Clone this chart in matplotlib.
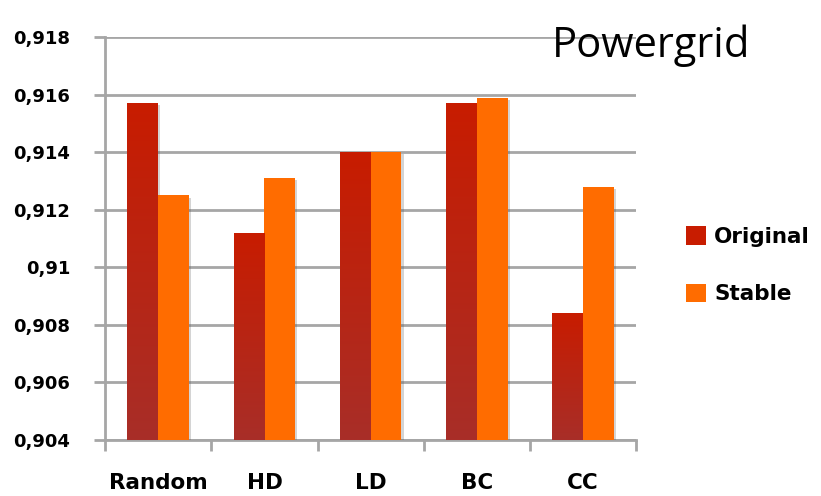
import numpy as np
import matplotlib
matplotlib.use("Agg")
import matplotlib.pyplot as plt
import matplotlib.patheffects as pe
from matplotlib.colors import LinearSegmentedColormap
from matplotlib.patches import Patch
from matplotlib.ticker import FixedLocator

categories = ["Random", "HD", "LD", "BC", "CC"]
original = [0.9157, 0.9112, 0.9140, 0.9157, 0.9084]
stable = [0.9125, 0.9131, 0.9140, 0.9159, 0.9128]
y_ticks = [0.904, 0.906, 0.908, 0.910, 0.912, 0.914, 0.916, 0.918]
y_labels = ["0,904", "0,906", "0,908", "0,91", "0,912", "0,914", "0,916", "0,918"]

ORIG_TOP = "#C81C00"
ORIG_BOTTOM = "#A82E28"
STABLE_COLOR = "#FF6C00"
GRID_COLOR = "#A6A6A6"
BOLD_FONT = "DejaVu Sans"
TITLE_FONT = "Open Sans"

fig = plt.figure(figsize=(8.21, 4.96), dpi=100)
ax = fig.add_axes([0.128, 0.113, 0.647, 0.812])

ymin, ymax = 0.904, 0.918
x = np.arange(len(categories))
width = 0.29

shadow = [pe.SimplePatchShadow(offset=(1.5, -1.5), alpha=0.25, shadow_rgbFace="#555555"), pe.Normal()]
grad = LinearSegmentedColormap.from_list("orig", [ORIG_BOTTOM, ORIG_TOP])

orig_bars = ax.bar(x - width / 2, np.array(original) - ymin, width, bottom=ymin,
                   color=ORIG_TOP, zorder=3, path_effects=shadow)
ax.bar(x + width / 2, np.array(stable) - ymin, width, bottom=ymin,
       color=STABLE_COLOR, zorder=3, path_effects=shadow)

# vertical gradient fill for the "Original" bars
g = np.linspace(0, 1, 256).reshape(-1, 1)
for bar in orig_bars:
    x0, y0 = bar.get_x(), bar.get_y()
    x1, y1 = x0 + bar.get_width(), y0 + bar.get_height()
    im = ax.imshow(g, cmap=grad, origin="lower", aspect="auto",
                   extent=[x0, x1, y0, y1], zorder=3.5, interpolation="bilinear")
    im.set_clip_path(bar)

ax.set_xlim(-0.5, len(categories) - 0.5)
ax.set_ylim(ymin, ymax)

ax.set_yticks(y_ticks)
ax.set_yticklabels(y_labels, fontsize=13, fontweight="bold", family=BOLD_FONT)
ax.set_xticks(x)
ax.set_xticklabels(categories, fontsize=15.5, fontweight="bold", family=BOLD_FONT)
ax.tick_params(axis="x", length=0, pad=24)
ax.xaxis.set_minor_locator(FixedLocator(np.arange(-0.5, len(categories), 1.0)))
ax.tick_params(axis="x", which="minor", length=8, width=2, color=GRID_COLOR, direction="out")
ax.tick_params(axis="y", length=8, width=2, color=GRID_COLOR, direction="out", pad=17)

ax.grid(axis="y", color=GRID_COLOR, linewidth=2, zorder=0)
ax.set_axisbelow(True)
for side in ("top", "right"):
    ax.spines[side].set_visible(False)
for side in ("left", "bottom"):
    ax.spines[side].set_color(GRID_COLOR)
    ax.spines[side].set_linewidth(2)

fig.text(0.672, 0.907, "Powergrid", fontsize=30, family=TITLE_FONT, ha="left", va="center")

handles = [Patch(facecolor=ORIG_TOP, label="Original"),
           Patch(facecolor=STABLE_COLOR, label="Stable")]
fig.legend(handles=handles, loc="center left", bbox_to_anchor=(0.812, 0.465),
           frameon=False, prop={"family": BOLD_FONT, "weight": "bold", "size": 15.5},
           handlelength=0.95, handleheight=0.95, handletextpad=0.35, labelspacing=1.7)

fig.savefig("out.png", dpi=100)
